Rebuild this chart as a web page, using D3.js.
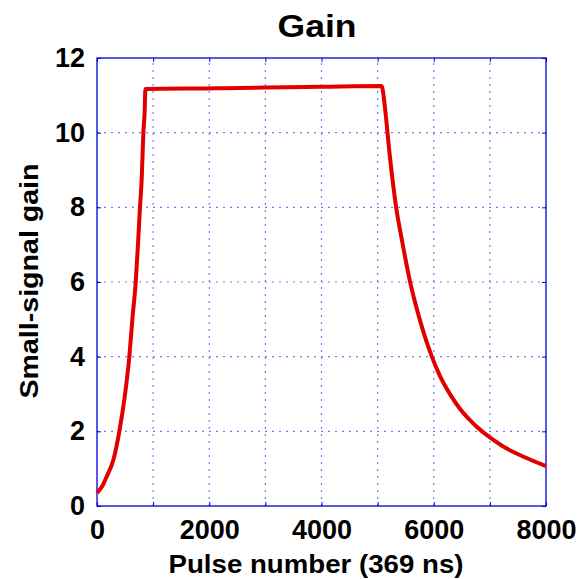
<!DOCTYPE html>
<html><head><meta charset="utf-8">
<script src="https://cdn.jsdelivr.net/npm/d3@7"></script>
<style>body{margin:0;background:#fff;} svg{display:block;}</style>
</head><body>
<script>
const pulseNumber = [0,100,173,291,398,487,576,630,690,730,766,796,826,850,862,2130,3000,4000,5075,5098,5134,5217,5330,5442,5579,5750,5966,6114,6300,6470,6619,6860,7000,7300,7600,8000];
const gainValues  = [0.35,0.55,0.79,1.23,2.0,2.85,4.0,5.0,6.0,7.0,8.0,8.75,10.0,10.6,11.17,11.19,11.21,11.23,11.25,11.08,10.63,9.38,8.0,7.05,6.0,5.0,4.0,3.47,2.97,2.6,2.34,2.0,1.84,1.54,1.32,1.07];
const xTicks = [0,2000,4000,6000,8000];
const xGrid = [1000,2000,3000,4000,5000,6000,7000];
const yTicks = [0,2,4,6,8,10,12];
const yGrid = [2,4,6,8,10];

const W=578,H=579;
const m={l:97,r:32,t:58,b:73};
const svg=d3.select("body").append("svg").attr("width",W).attr("height",H)
  .style("font-family","'Liberation Sans', Arial, sans-serif");
const x=d3.scaleLinear().domain([0,8000]).range([m.l,W-m.r]);
const y=d3.scaleLinear().domain([0,12]).range([H-m.b,m.t]);
const blue="#0000dd";

// grid
svg.append("g").selectAll("line").data(xGrid).join("line")
  .attr("x1",d=>x(d)).attr("x2",d=>x(d)).attr("y1",y(0)).attr("y2",y(12))
  .attr("stroke","#4f4fe6").attr("stroke-opacity",0.75).attr("stroke-width",1.2).attr("stroke-dasharray","2,5");
svg.append("g").selectAll("line").data(yGrid).join("line")
  .attr("y1",d=>y(d)).attr("y2",d=>y(d)).attr("x1",x(0)).attr("x2",x(8000))
  .attr("stroke","#4f4fe6").attr("stroke-opacity",0.75).attr("stroke-width",1.2).attr("stroke-dasharray","2,5");

// axes with inward ticks
const fs="27px";
const gx=svg.append("g").attr("transform",`translate(0,${y(0)})`)
  .call(d3.axisBottom(x).tickValues(d3.range(0,8001,1000)).tickSizeInner(-4).tickSizeOuter(0)
    .tickFormat(d=>xTicks.includes(d)?d:""));
gx.selectAll("text").attr("dy","0.71em").attr("y",14).style("font-size",fs).style("font-weight","bold").attr("fill","#000");
const gy=svg.append("g").attr("transform",`translate(${x(0)},0)`)
  .call(d3.axisLeft(y).tickValues(yTicks).tickSizeInner(-4).tickSizeOuter(0).tickFormat(d=>d));
gy.selectAll("text").attr("x",-12).style("font-size",fs).style("font-weight","bold").attr("fill","#000");
const gt=svg.append("g").attr("transform",`translate(0,${y(12)})`)
  .call(d3.axisTop(x).tickValues(d3.range(0,8001,1000)).tickSizeInner(-4).tickSizeOuter(0).tickFormat(""));
const gr=svg.append("g").attr("transform",`translate(${x(8000)},0)`)
  .call(d3.axisRight(y).tickValues(yTicks).tickSizeInner(-4).tickSizeOuter(0).tickFormat(""));
[gx,gy,gt,gr].forEach(g=>{g.selectAll("line").attr("stroke",blue);g.select(".domain").remove();});

svg.append("rect").attr("x",x(0)).attr("y",y(12)).attr("width",x(8000)-x(0)).attr("height",y(0)-y(12))
  .attr("fill","none").attr("stroke",blue).attr("stroke-width",1.3);

// line
const pts=pulseNumber.map((p,i)=>[p,gainValues[i]]);
svg.append("path").datum(pts)
  .attr("d",d3.line().x(d=>x(d[0])).y(d=>y(d[1])).curve(d3.curveMonotoneX))
  .attr("fill","none").attr("stroke","#e00000").attr("stroke-width",4).attr("stroke-linejoin","round");

// title and labels
svg.append("text").attr("x",317).attr("y",37).attr("text-anchor","middle")
  .attr("textLength",79).attr("lengthAdjust","spacingAndGlyphs")
  .style("font-size","31px").style("font-weight","bold").text("Gain");
svg.append("text").attr("x",316).attr("y",573).attr("text-anchor","middle")
  .attr("textLength",295).attr("lengthAdjust","spacingAndGlyphs")
  .style("font-size","25px").style("font-weight","bold").text("Pulse number (369 ns)");
svg.append("text").attr("transform","translate(38,281) rotate(-90)").attr("text-anchor","middle")
  .attr("textLength",235).attr("lengthAdjust","spacingAndGlyphs")
  .style("font-size","26px").style("font-weight","bold").text("Small-signal gain");
</script>
</body></html>
